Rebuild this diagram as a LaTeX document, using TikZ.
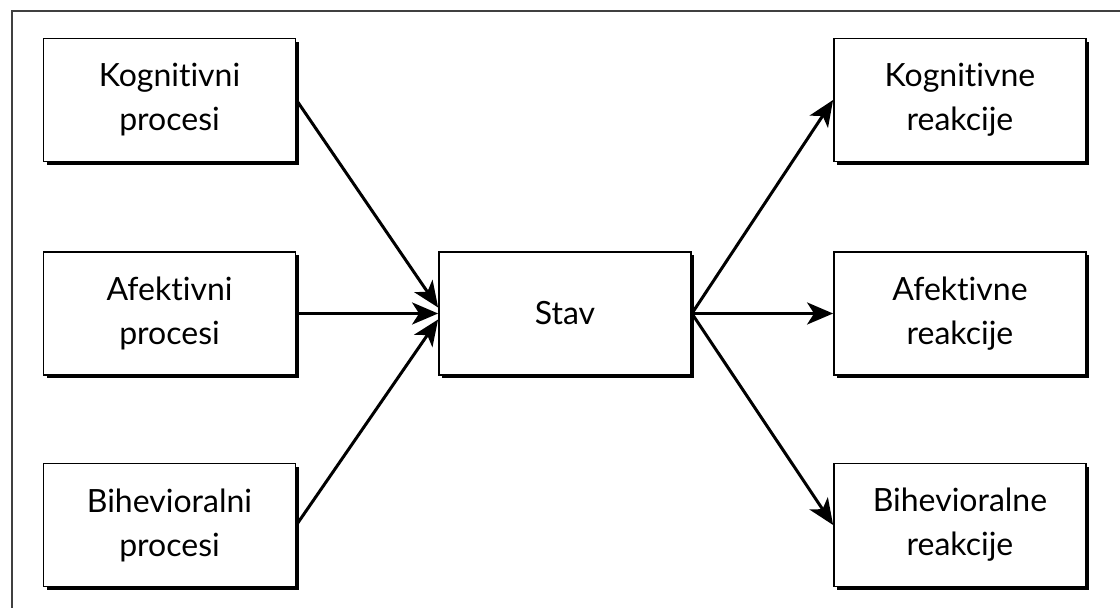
\documentclass[tikz,border=0pt]{standalone}
\usepackage{fontspec}
\setmainfont{Lato}[Ligatures={NoCommon}]
\usetikzlibrary{arrows.meta,shadows}
\begin{document}
\begin{tikzpicture}[x=0.5pt,y=-0.5pt,
  box/.style={draw=black, line width=0.9pt, fill=white, minimum width=126pt, minimum height=61.5pt,
    align=center, inner sep=0pt, font=\fontsize{16}{22}\selectfont,
    general shadow={fill=black, shadow xshift=1.6pt, shadow yshift=-1.6pt}},
  conn/.style={line width=1.5pt, -{Stealth[length=13pt, width=11pt, inset=3.5pt]}}]
\useasboundingbox (0,0) rectangle (1120,608);
\draw[line width=0.8pt, black!75] (12,608) -- (12,11) -- (1120,11);
\node[box] (kp) at (169.5,100) {Kognitivni\\procesi};
\node[box] (ap) at (169.5,313.5) {Afektivni\\procesi};
\node[box] (bp) at (169.5,525) {Bihevioralni\\procesi};
\node[box] (stav) at (565,313.5) {Stav};
\node[box] (kr) at (960,100) {Kognitivne\\reakcije};
\node[box] (ar) at (960,313.5) {Afektivne\\reakcije};
\node[box] (br) at (960,525) {Bihevioralne\\reakcije};
\draw[conn] (kp.east) -- ([yshift=3pt]stav.west);
\draw[conn] (ap.east) -- (stav.west);
\draw[conn] (bp.east) -- ([yshift=-3pt]stav.west);
\draw[conn] (stav.east) -- (kr.west);
\draw[conn] (stav.east) -- (ar.west);
\draw[conn] (stav.east) -- (br.west);
\end{tikzpicture}
\end{document}
